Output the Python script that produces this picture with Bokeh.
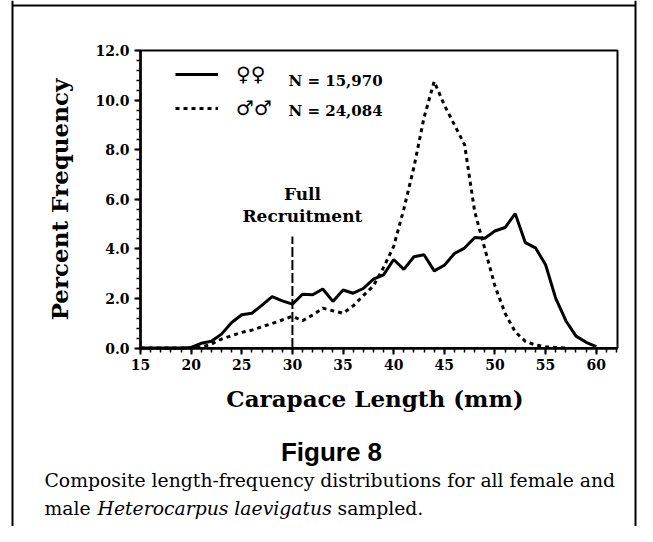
from bokeh.plotting import figure
from bokeh.models import (Range1d, FixedTicker, NumeralTickFormatter, Label,
                          BoxAnnotation, Span)
from bokeh.embed import file_html
from bokeh.resources import INLINE

# ---- data ----
female_length_mm = list(range(15, 61))
female_pct = [0, 0, 0, 0, 0,
              0.02, 0.19, 0.27, 0.56, 1.03, 1.34, 1.40, 1.73, 2.07, 1.90,
              1.77, 2.17, 2.15, 2.38, 1.88, 2.34, 2.21, 2.40, 2.78, 2.95,
              3.57, 3.17, 3.68, 3.76, 3.11, 3.34, 3.81, 4.03, 4.46, 4.43,
              4.72, 4.86, 5.42, 4.25, 4.04, 3.36, 2.00, 1.10, 0.48, 0.23,
              0.06]

male_length_mm = list(range(15, 58))
male_pct = [0, 0, 0, 0, 0,
            0.0, 0.03, 0.16, 0.36, 0.50, 0.63, 0.72, 0.86, 0.99, 1.13,
            1.28, 1.10, 1.33, 1.61, 1.50, 1.40, 1.70, 2.11, 2.51, 3.25,
            4.10, 5.60, 7.30, 9.30, 10.75, 9.80, 9.00, 8.20, 5.50, 4.00,
            2.50, 1.40, 0.65, 0.27, 0.12, 0.05, 0.02, 0.0]

x_ticks = [15, 20, 25, 30, 35, 40, 45, 50, 55, 60]
x_minor_ticks = list(range(15, 63))
y_ticks = [0, 2, 4, 6, 8, 10, 12]
y_minor_ticks = [i * 0.4 for i in range(31)]
x_min, x_max = 15, 62.1
y_min, y_max = 0, 12

legend_symbols = ["\u2640\u2640", "\u2642\u2642"]
legend_counts = ["N = 15,970", "N = 24,084"]
recruit_x = 30
recruit_top = 4.5
recruit_text = ["Full", "Recruitment"]
x_title = "Carapace Length  (mm)"
y_title = "Percent Frequency"
fig_title = "Figure 8"
caption_1 = "Composite length-frequency distributions for all female and"
caption_2a = "male"
caption_2b = "Heterocarpus laevigatus"
caption_2c = "sampled."

SERIF = "DejaVu Serif"

# ---- layout: the frame covers the whole canvas, axes are fixed inside ----
W, H = 637, 526
plot_left, plot_right = 140, 617      # canvas px of the chart area
plot_top, plot_bottom = 50, 347.5
xs = (plot_right - plot_left) / (x_max - x_min)
ys = (plot_bottom - plot_top) / (y_max - y_min)
xr = Range1d(x_min - plot_left / xs, x_min + (W - plot_left) / xs)
yr = Range1d(y_min - (H - plot_bottom) / ys, y_min + plot_bottom / ys)

p = figure(width=W, height=H, output_backend="svg", toolbar_location=None,
           x_range=xr, y_range=yr,
           min_border_left=0, min_border_right=0,
           min_border_top=0, min_border_bottom=0)

p.xgrid.visible = False
p.ygrid.visible = False
p.outline_line_color = None
p.background_fill_color = "white"
p.border_fill_color = "white"

p.xaxis.fixed_location = y_min
p.yaxis.fixed_location = x_min
p.xaxis.bounds = (x_min, x_max)
p.yaxis.bounds = (y_min, y_max)
p.xaxis.ticker = FixedTicker(ticks=x_ticks, minor_ticks=x_minor_ticks)
p.yaxis.ticker = FixedTicker(ticks=y_ticks, minor_ticks=y_minor_ticks)
p.yaxis.formatter = NumeralTickFormatter(format="0.0")

for ax in (p.xaxis[0], p.yaxis[0]):
    ax.axis_line_width = 2.5
    ax.axis_line_color = "black"
    ax.major_tick_line_width = 2
    ax.minor_tick_line_width = 1.5
    ax.major_tick_out = 6
    ax.major_tick_in = 0
    ax.minor_tick_out = 4
    ax.minor_tick_in = 0
    ax.major_label_text_font = SERIF
    ax.major_label_text_font_style = "bold"
    ax.major_label_text_font_size = "14px"
    ax.major_label_text_color = "black"
    ax.axis_label_text_font = SERIF
    ax.axis_label_text_font_style = "bold"
    ax.axis_label_text_font_size = "23px"
    ax.axis_label_text_color = "black"
    ax.major_label_standoff = 5

p.xaxis.axis_label = x_title
p.yaxis.axis_label = y_title
p.xaxis.axis_label_standoff = 11
p.yaxis.axis_label_standoff = 19

# chart box (top and right sides)
p.add_layout(BoxAnnotation(left=x_min, right=x_max, bottom=y_min, top=y_max,
                           fill_alpha=0, line_color="black", line_width=2,
                           line_alpha=1, level="underlay"))

# ---- series ----
p.line(female_length_mm, female_pct, line_width=3, color="black",
       legend_label=legend_symbols[0])
p.line(male_length_mm, male_pct, line_width=3, color="black", line_dash="4 4",
       legend_label=legend_symbols[1])

# full recruitment marker
p.segment(x0=[recruit_x], y0=[0], x1=[recruit_x], y1=[recruit_top],
          line_width=2, color="black", line_dash="10 3")
for txt, yy in zip(recruit_text, [H - 193, H - 215]):
    p.add_layout(Label(x=recruit_x, y=yy, x_units="data", y_units="screen",
                       x_offset=10, text=txt, text_align="center",
                       text_baseline="middle", text_font=SERIF,
                       text_font_style="bold", text_font_size="17px",
                       text_color="black"))

# legend
lg = p.legend[0]
lg.location = (175, H - 70 - 50)
lg.padding = 0
lg.margin = 0
lg.spacing = 10
lg.border_line_alpha = 0
lg.background_fill_alpha = 0
lg.glyph_width = 43
lg.glyph_height = 20
lg.label_height = 20
lg.label_standoff = 18
lg.label_text_font = "DejaVu Sans"
lg.label_text_font_style = "bold"
lg.label_text_font_size = "20px"
lg.label_text_color = "black"
for txt, yy in zip(legend_counts, [H - 80, H - 110]):
    p.add_layout(Label(x=288, y=yy, x_units="screen", y_units="screen",
                       text=txt, text_align="left", text_baseline="middle",
                       text_font=SERIF, text_font_style="bold",
                       text_font_size="15px", text_color="black"))

# figure caption
p.add_layout(Label(x=331, y=H - 451, x_units="screen", y_units="screen",
                   text=fig_title, text_align="center", text_baseline="middle",
                   text_font="Liberation Sans", text_font_style="bold",
                   text_font_size="26px", text_color="black"))
p.add_layout(Label(x=44, y=H - 480, x_units="screen", y_units="screen",
                   text=caption_1, text_align="left", text_baseline="middle",
                   text_font=SERIF, text_font_size="18.8px", text_color="black"))
p.add_layout(Label(x=44, y=H - 508, x_units="screen", y_units="screen",
                   text=caption_2a, text_align="left", text_baseline="middle",
                   text_font=SERIF, text_font_size="18.8px", text_color="black"))
p.add_layout(Label(x=97, y=H - 508, x_units="screen", y_units="screen",
                   text=caption_2b, text_align="left", text_baseline="middle",
                   text_font=SERIF, text_font_style="italic",
                   text_font_size="18.8px", text_color="black"))
p.add_layout(Label(x=337, y=H - 508, x_units="screen", y_units="screen",
                   text=caption_2c, text_align="left", text_baseline="middle",
                   text_font=SERIF, text_font_size="18.8px", text_color="black"))

# outer frame of the figure panel: left, right and top edges only
for xloc in (12, 635):
    p.add_layout(Span(location=xloc, location_units="screen", dimension="height",
                      line_color="black", line_width=2))
p.add_layout(BoxAnnotation(left=12, right=635, top=H - 5, bottom=H - 5,
                           left_units="screen", right_units="screen",
                           top_units="screen", bottom_units="screen",
                           fill_alpha=0, line_color="black", line_width=2,
                           line_alpha=1))

open("out.html", "w").write(file_html(p, INLINE))
